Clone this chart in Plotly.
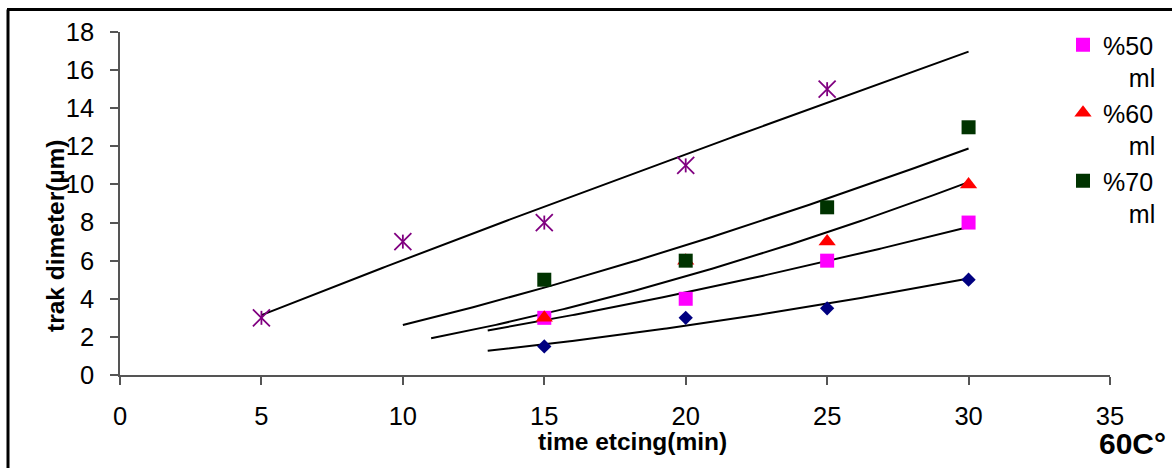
import numpy as np
import plotly.graph_objects as go

# ---- data ----
x_navy = [15, 20, 25, 30]
y_navy = [1.5, 3, 3.5, 5]
x_p50 = [15, 20, 25, 30]
y_p50 = [3, 4, 6, 8]
x_p60 = [15, 20, 25, 30]
y_p60 = [3, 6, 7, 10]
x_p70 = [15, 20, 25, 30]
y_p70 = [5, 6, 8.8, 13]
x_purple = [5, 10, 15, 20, 25]
y_purple = [3, 7, 8, 11, 15]

x_ticks = [0, 5, 10, 15, 20, 25, 30, 35]
y_ticks = [0, 2, 4, 6, 8, 10, 12, 14, 16, 18]

FONT = "Liberation Sans, Arial, sans-serif"
PAD = "\u00a0\u00a0\u00a0\u2009"

# plot-area geometry (pixels) used for placing frame and annotations
W, H = 1174, 468
L, R, T, B = 120, 64, 32, 93
PW, PH = W - L - R, H - T - B


def px(xp):
    return (xp - L) / PW


def py(yp):
    return (H - B - yp) / PH


def power_fit(xs, ys, x0, x1):
    b, lna = np.polyfit(np.log(xs), np.log(ys), 1)
    xx = np.linspace(x0, x1, 200)
    return xx, np.exp(lna) * xx ** b


fig = go.Figure()

# trend lines (power fits)
for xs, ys, x0 in [(x_purple, y_purple, 5), (x_p70, y_p70, 10), (x_p60, y_p60, 11),
                   (x_p50, y_p50, 13), (x_navy, y_navy, 13)]:
    xx, yy = power_fit(xs, ys, x0, 30)
    fig.add_trace(go.Scatter(x=xx, y=yy, mode="lines", line=dict(color="black", width=2),
                             showlegend=False, hoverinfo="skip"))

fig.add_trace(go.Scatter(x=x_navy, y=y_navy, mode="markers", showlegend=False,
                         marker=dict(symbol="diamond", size=11, color="#000080")))
fig.add_trace(go.Scatter(x=x_p50, y=y_p50, mode="markers", name="%50<br>" + PAD + "ml",
                         marker=dict(symbol="square", size=14, color="#FF00FF")))
fig.add_trace(go.Scatter(x=x_p60, y=y_p60, mode="markers", name="%60<br>" + PAD + "ml",
                         marker=dict(symbol="triangle-up", size=15, color="#FF0000")))
fig.add_trace(go.Scatter(x=x_p70, y=y_p70, mode="markers", name="%70<br>" + PAD + "ml",
                         marker=dict(symbol="square", size=14, color="#003300")))
fig.add_trace(go.Scatter(x=x_purple, y=y_purple, mode="markers", showlegend=False,
                         marker=dict(symbol="x-thin-open", size=17, color="#800080",
                                     line=dict(color="#800080", width=1.8))))
fig.add_trace(go.Scatter(x=x_purple, y=y_purple, mode="markers", showlegend=False,
                         marker=dict(symbol="line-ns-open", size=10, color="#800080",
                                     line=dict(color="#800080", width=1.8))))

axis_common = dict(showgrid=False, zeroline=False, showline=True, linecolor="#555555",
                   linewidth=1.5, ticks="outside", tickcolor="#555555", tickwidth=1.5,
                   ticklen=8, tickfont=dict(family=FONT, size=25.5, color="black"))

fig.update_xaxes(range=[0, 35], tickvals=x_ticks, ticklabelstandoff=10, **axis_common)
fig.update_yaxes(range=[0, 18], tickvals=y_ticks, ticklabelstandoff=11, **axis_common)

fig.update_layout(
    width=W, height=H,
    margin=dict(l=L, r=R, t=T, b=B),
    paper_bgcolor="white", plot_bgcolor="white",
    font=dict(family=FONT, color="black"),
    legend=dict(x=px(1063), y=py(22), xanchor="left", yanchor="top",
                bgcolor="rgba(0,0,0,0)", font=dict(family=FONT, size=25, color="black"),
                valign="top", tracegroupgap=0),
    annotations=[
        dict(text="<b>time etcing(min)</b>", x=px(632), y=py(441), xref="paper", yref="paper",
             xanchor="center", yanchor="middle",
             showarrow=False, font=dict(family=FONT, size=24.5, color="black")),
        dict(text="<b>trak dimeter(µm)</b>", x=px(55), y=py(236), xref="paper", yref="paper",
             xanchor="center", yanchor="middle",
             showarrow=False, textangle=-90, font=dict(family=FONT, size=24.5, color="black")),
        dict(text="<b>60C°</b>", x=px(1168), y=py(443), xref="paper", yref="paper",
             xanchor="right", yanchor="middle", showarrow=False,
             font=dict(family=FONT, size=30, color="black")),
    ],
    shapes=[
        dict(type="line", xref="paper", yref="paper", x0=px(7), x1=px(1172), y0=py(9.5), y1=py(9.5),
             line=dict(color="black", width=3)),
        dict(type="line", xref="paper", yref="paper", x0=px(8), x1=px(8), y0=py(9.5), y1=py(470),
             line=dict(color="black", width=3)),
    ],
)

fig.write_html("out.html")
